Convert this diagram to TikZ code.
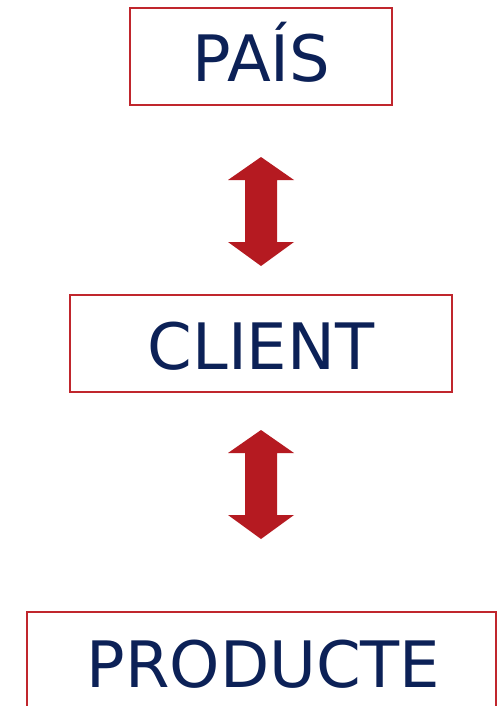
\documentclass[tikz,border=0pt]{standalone}
\usepackage{fontspec}
\setmainfont{DejaVu Sans}
\definecolor{boxred}{HTML}{C0262D}
\definecolor{arrred}{HTML}{B51A21}
\definecolor{navy}{HTML}{0C2157}
\tikzset{
  box/.style={draw=boxred, line width=1.5pt, fill=white, inner sep=0pt},
  label/.style={text=navy, font=\fontsize{64}{64}\selectfont, inner sep=0pt, anchor=base},
  blockarrow/.style={fill=arrred, draw=none}
}
\begin{document}
\begin{tikzpicture}[x=1pt,y=-1pt]
\clip (0,0) rectangle (498,706);
\fill[white] (0,0) rectangle (498,706);
% boxes
\node[box, minimum width=262pt, minimum height=97pt] (pais) at (261,56.5) {};
\node[box, minimum width=382pt, minimum height=97pt] (client) at (261,343.5) {};
\node[box, minimum width=469pt, minimum height=120pt] (producte) at (261.5,672) {};
% texts
\node[label] (tpais) at (261.5,82) {PAÍS};
\node[label] (tclient) at (261,369.5) {CLIENT};
\node[label] (tproducte) at (263.5,687) {PRODUCTE};
% double block arrows
\fill[blockarrow] (261,157) -- (294,180) -- (277,180) -- (277,242) -- (294,242) -- (261,266) -- (228,242) -- (245,242) -- (245,180) -- (228,180) -- cycle;
\fill[blockarrow] (261,430) -- (294,453) -- (277,453) -- (277,515) -- (294,515) -- (261,539) -- (228,515) -- (245,515) -- (245,453) -- (228,453) -- cycle;
\end{tikzpicture}
\end{document}
